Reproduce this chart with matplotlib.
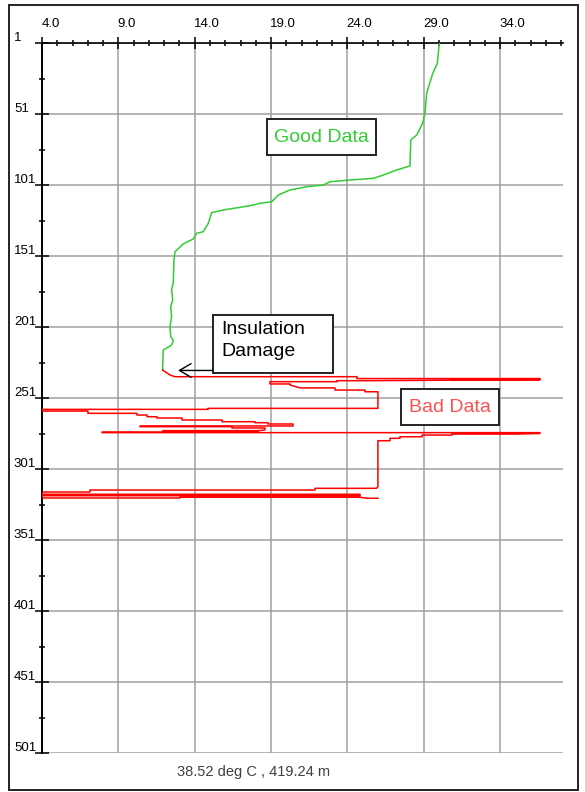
import matplotlib.pyplot as plt
from matplotlib.patches import Rectangle

plt.rcParams['font.family'] = ['Liberation Sans', 'DejaVu Sans']

# temperature (deg C) vs depth (m)
good_temp = [30.02, 29.89, 29.59, 29.19, 29.08, 28.93, 28.54, 28.15, 28.10, 27.23,
             26.35, 25.70, 24.17, 22.86, 22.42, 21.34, 20.24, 19.48, 19.04, 18.28,
             17.62, 15.87, 15.11, 14.89, 14.56, 14.13, 13.91, 13.25, 12.71, 12.64,
             12.60, 12.49, 12.56, 12.43, 12.49, 12.38, 12.43, 12.60, 12.49, 11.94, 11.90]
good_depth = [1.0, 15.3, 22.3, 36.4, 50.5, 57.5, 65.8, 69.3, 87.6, 90.4,
              94.0, 96.3, 97.5, 98.7, 101.0, 102.2, 104.5, 108.0, 112.8, 113.9,
              115.6, 118.6, 120.5, 128.0, 133.9, 135.0, 139.0, 142.5, 148.0, 153.8,
              169.5, 174.9, 182.0, 186.7, 193.7, 200.8, 207.8, 210.2, 213.7, 217.2, 231.3]

bad_temp = [11.90, 12.38, 12.71, 24.63, 24.63, 36.61, 36.61, 30.80, 36.61, 25.48,
            23.32, 23.32, 18.93, 18.93, 20.24, 20.24, 20.90, 23.19, 23.19, 25.15,
            25.15, 26.00, 26.00, 14.87, 14.87, 4.00, 4.00, 7.01, 7.01, 10.22,
            10.22, 10.88, 10.88, 11.53, 11.53, 13.17, 13.17, 15.79, 15.79, 17.95,
            17.95, 18.80, 18.80, 20.44, 20.44, 10.42, 10.42, 16.44, 16.44, 18.60,
            18.60, 18.15, 11.92, 11.92, 18.15, 18.15, 7.93, 7.93, 36.61, 36.61,
            35.11, 30.85, 30.85, 28.89, 28.89, 27.44, 27.44, 26.79, 26.79, 26.00,
            26.00, 25.90, 21.88, 21.88, 7.14, 7.14, 4.00, 4.00, 24.83, 24.83,
            4.00, 4.00, 13.04, 13.04, 24.83, 25.30, 26.00]
bad_depth = [231.3, 234.8, 236.0, 236.0, 237.3, 237.3, 237.8, 237.9, 238.1, 238.8,
             238.8, 239.5, 239.5, 241.1, 241.1, 241.8, 243.9, 243.9, 245.4, 245.4,
             246.6, 246.6, 258.3, 258.3, 259.0, 259.0, 260.2, 260.2, 261.8, 261.8,
             263.0, 263.0, 264.2, 264.2, 265.1, 265.1, 266.5, 266.5, 267.7, 267.7,
             268.4, 268.4, 269.3, 269.3, 270.7, 270.7, 271.2, 271.2, 272.1, 272.1,
             273.5, 274.0, 274.0, 274.7, 274.7, 275.0, 275.0, 275.4, 275.4, 276.0,
             276.4, 276.4, 277.1, 277.1, 278.3, 278.3, 279.4, 279.4, 281.1, 281.1,
             313.5, 314.6, 314.6, 315.8, 315.8, 317.2, 317.2, 318.8, 318.8, 319.8,
             319.8, 321.4, 321.4, 320.9, 320.9, 321.6, 321.6]

xticks = [4.0, 9.0, 14.0, 19.0, 24.0, 29.0, 34.0]
yticks = [1, 51, 101, 151, 201, 251, 301, 351, 401, 451, 501]

fig = plt.figure(figsize=(5.85, 7.92), dpi=100)
ax = fig.add_axes([42/585, 1-753/792, 521/585, 710/792])

ax.plot(good_temp, good_depth, color='#33cc33', lw=1.1, zorder=3)
ax.plot(bad_temp, bad_depth, color='#ff0000', lw=1.1, zorder=3)

ax.set_xlim(4, 38.12)
ax.set_ylim(501, 1)
ax.xaxis.tick_top()
ax.set_xticks(xticks)
ax.set_xticks(range(4, 39), minor=True)
ax.set_yticks(yticks)
ax.set_yticks(range(26, 501, 50), minor=True)
ax.tick_params(which='major', direction='inout', length=9, width=1.1, color='black',
               labelleft=False, labeltop=False, labelbottom=False)
ax.tick_params(axis='y', which='major', length=10)
ax.tick_params(which='minor', direction='inout', length=5, width=1.1, color='black')
ax.grid(True, which='major', color='#a0a0a0', lw=1.1)
ax.set_axisbelow(True)
for s in ['right', 'bottom']:
    ax.spines[s].set_visible(False)
ax.spines['left'].set_linewidth(1.4)
ax.spines['top'].set_linewidth(1.2)

for v in xticks:
    ax.annotate('%.1f' % v, xy=(v, 1), xycoords=('data', 'axes fraction'),
                xytext=(-0.5, 11.5), textcoords='offset points',
                ha='left', va='baseline', fontsize=9.5)
for v in yticks:
    ax.annotate(str(v), xy=(0, v), xycoords=('axes fraction', 'data'),
                xytext=(-20.2, 1.5), textcoords='offset points',
                ha='left', va='baseline', fontsize=9.5, annotation_clip=False)

# boxes
ax.add_patch(Rectangle((18.73, 54.5), 7.14, 25.4, fill=True, fc='white',
                       ec='#222222', lw=1.4, zorder=4))
ax.text(22.30, 67.6, 'Good Data', color='#33cc33', fontsize=14,
        ha='center', va='center', zorder=5)

ax.add_patch(Rectangle((27.49, 244.7), 6.44, 25.3, fill=True, fc='white',
                       ec='#222222', lw=1.4, zorder=4))
ax.text(30.72, 257.8, 'Bad Data', color='#ff5050', fontsize=14,
        ha='center', va='center', zorder=5)

ax.add_patch(Rectangle((15.20, 192.5), 7.86, 40.9, fill=True, fc='white',
                       ec='#222222', lw=1.4, zorder=4))
ax.text(15.72, 196.8, 'Insulation\nDamage', color='black', fontsize=14,
        ha='left', va='top', linespacing=1.38, zorder=5)
ax.annotate('', xy=(12.91, 231.6), xytext=(15.20, 231.6),
            arrowprops=dict(arrowstyle='->,head_length=0.6,head_width=0.35',
                            color='black', lw=1.0, mutation_scale=14,
                            shrinkA=0, shrinkB=0), zorder=5)

fig.text(254/585, 1-772/792, '38.52 deg C , 419.24 m', ha='center', va='center',
         fontsize=10.5, color='#404040')

fig.patches.append(Rectangle((9/585, 2/792), 569/585, 785/792, transform=fig.transFigure,
                             fill=False, ec='#222222', lw=1.4))

fig.savefig('out.png', dpi=100, facecolor='white')
